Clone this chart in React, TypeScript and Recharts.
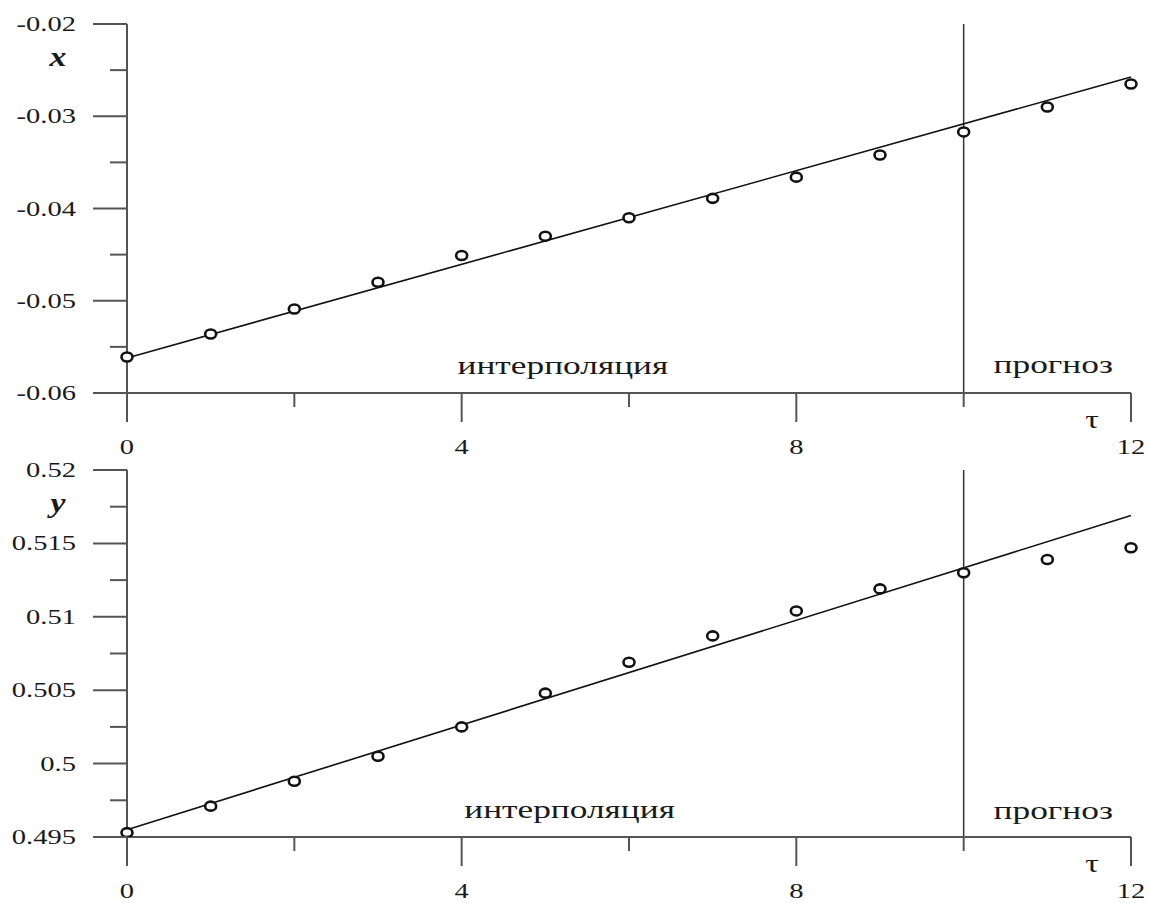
import { ComposedChart, Line, Scatter, XAxis, YAxis, ReferenceLine, ReferenceDot } from 'recharts'

// τ = 0..12, observed values and the fitted straight line
const tau = [0, 1, 2, 3, 4, 5, 6, 7, 8, 9, 10, 11, 12]
const xObs = [-0.0561, -0.0536, -0.0509, -0.048, -0.0451, -0.043, -0.041, -0.0389, -0.0366, -0.0342, -0.0317, -0.029, -0.0265]
const yObs = [0.4953, 0.4971, 0.4988, 0.5005, 0.5025, 0.5048, 0.5069, 0.5087, 0.5104, 0.5119, 0.513, 0.5139, 0.5147]
const fitTau = [0, 12]
const xFit = [-0.0562, -0.02575]
const yFit = [0.4955, 0.5169]

const tauTicks = [0, 2, 4, 6, 8, 10, 12]
const tauMajor = [0, 4, 8, 12]
const xTicks = [-0.06, -0.055, -0.05, -0.045, -0.04, -0.035, -0.03, -0.025, -0.02]
const xMajor = [-0.06, -0.05, -0.04, -0.03, -0.02]
const yTicks = [0.495, 0.4975, 0.5, 0.5025, 0.505, 0.5075, 0.51, 0.5125, 0.515, 0.5175, 0.52]
const yMajor = [0.495, 0.5, 0.505, 0.51, 0.515, 0.52]
const splitTau = 10

const FONT = '"Liberation Serif", "Times New Roman", serif'
const INK = '#1a1a1a'
const AXIS = '#555'

function SText({ x, y, size, anchor = 'middle', sx = 1.36, style, weight, children }: any) {
  return (
    <text
      x={0}
      y={0}
      transform={`translate(${x},${y}) scale(${sx},1)`}
      textAnchor={anchor}
      fontSize={size}
      fontFamily={FONT}
      fontStyle={style}
      fontWeight={weight}
      fill={INK}
    >
      {children}
    </text>
  )
}

const isIn = (v: number, list: number[]) => list.some((m) => Math.abs(m - v) < 1e-9)

function YTick({ x, y, payload, major }: any) {
  const big = isIn(payload.value, major)
  return (
    <g>
      <line x1={x - (big ? 34 : 17)} x2={x} y1={y} y2={y} stroke={AXIS} strokeWidth={2} />
      {big && (
        <SText x={x - 51} y={y + 7} size={21} anchor="end">
          {String(Number(payload.value.toFixed(4)))}
        </SText>
      )}
    </g>
  )
}

function XTick({ x, y, payload }: any) {
  const big = isIn(payload.value, tauMajor)
  return (
    <g>
      <line x1={x} x2={x} y1={y} y2={y + (big ? 29 : 14)} stroke={AXIS} strokeWidth={2} />
      {big && (
        <SText x={x} y={y + 61} size={21}>
          {payload.value}
        </SText>
      )}
    </g>
  )
}

function Circle({ cx, cy }: any) {
  return <ellipse cx={cx} cy={cy} rx={5.5} ry={4.5} fill="#fff" stroke="#111" strokeWidth={2.6} />
}

function Panel({ obs, fit, domain, ticks, major, name, height, top, bottom, interp, prog }: any) {
  const pts = tau.map((t, i) => ({ tau: t, v: obs[i] }))
  const line = fitTau.map((t, i) => ({ tau: t, v: fit[i] }))
  return (
    <ComposedChart width={1149} height={height} data={pts} margin={{ top, right: 18, left: 0, bottom }}>
      <XAxis
        dataKey="tau"
        type="number"
        domain={[0, 12]}
        ticks={tauTicks}
        height={60}
        tickSize={0}
        tickMargin={0}
        tickLine={false}
        axisLine={{ stroke: AXIS, strokeWidth: 2 }}
        tick={(p: any) => <XTick {...p} />}
        label={{
          content: ({ viewBox }: any) => (
            <SText x={viewBox.x + viewBox.width - 39} y={viewBox.y + 35} size={25}>
              τ
            </SText>
          ),
        }}
      />
      <YAxis
        type="number"
        domain={domain}
        ticks={ticks}
        width={127}
        tickSize={0}
        tickMargin={0}
        tickLine={false}
        allowDataOverflow
        axisLine={{ stroke: AXIS, strokeWidth: 2 }}
        tick={(p: any) => <YTick {...p} major={major} />}
        label={{
          content: ({ viewBox }: any) => (
            <SText x={viewBox.x + viewBox.width - 69} y={viewBox.y + 42} size={27} style="italic" weight="bold" sx={1.25}>
              {name}
            </SText>
          ),
        }}
      />
      <ReferenceLine x={splitTau} stroke="#333" strokeWidth={1.5} />
      <ReferenceDot
        x={interp[0]}
        y={interp[1]}
        r={0}
        fill="none"
        stroke="none"
        label={{ content: ({ viewBox }: any) => <SText x={viewBox.x} y={viewBox.y} size={26}>интерполяция</SText> }}
      />
      <ReferenceDot
        x={prog[0]}
        y={prog[1]}
        r={0}
        fill="none"
        stroke="none"
        label={{ content: ({ viewBox }: any) => <SText x={viewBox.x} y={viewBox.y} size={26}>прогноз</SText> }}
      />
      <Line data={line} dataKey="v" stroke="#111" strokeWidth={1.6} dot={false} isAnimationActive={false} />
      <Scatter dataKey="v" shape={(p: any) => <Circle {...p} />} isAnimationActive={false} />
    </ComposedChart>
  )
}

export default function App() {
  return (
    <div style={{ position: 'absolute', left: 0, top: 0, width: 1149, height: 903, background: '#fff' }}>
      <Panel
        obs={xObs}
        fit={xFit}
        domain={[-0.06, -0.02]}
        ticks={xTicks}
        major={xMajor}
        name="x"
        height={460}
        top={24}
        bottom={7}
        interp={[5.21, -0.0579]}
        prog={[11.07, -0.0578]}
      />
      <Panel
        obs={yObs}
        fit={yFit}
        domain={[0.495, 0.52]}
        ticks={yTicks}
        major={yMajor}
        name="y"
        height={443}
        top={10}
        bottom={6}
        interp={[5.29, 0.4963]}
        prog={[11.07, 0.4962]}
      />
    </div>
  )
}
